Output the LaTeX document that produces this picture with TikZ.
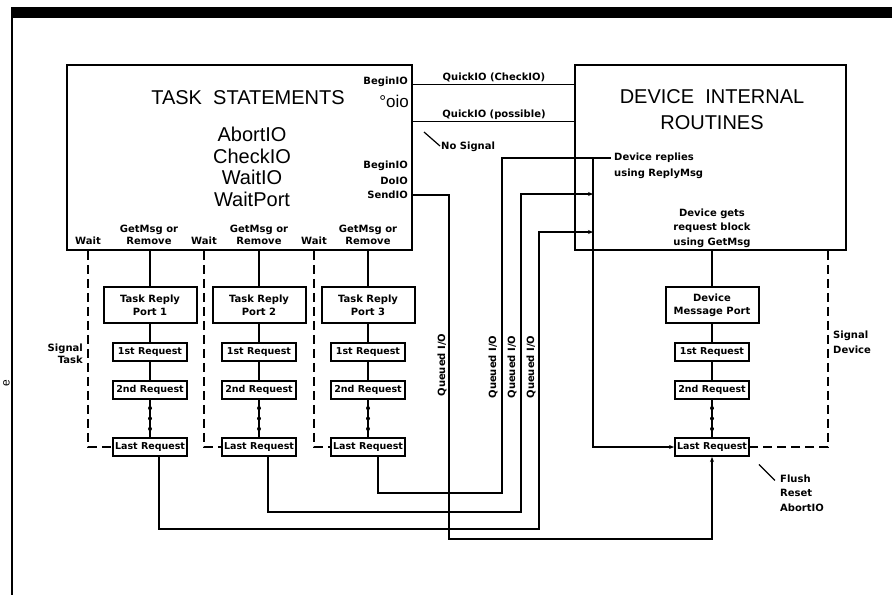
\documentclass[tikz,border=0pt]{standalone}
\usepackage{fontspec}
\setmainfont{Liberation Sans}
\newfontfamily\lblfont{DejaVu Sans}
\usepackage{tikz}
\usetikzlibrary{arrows.meta,positioning,calc}
\newcommand{\tinylbl}{\lblfont\bfseries\fontsize{10}{12}\selectfont}
\newcommand{\biglbl}{\fontsize{20}{21.5}\selectfont}
\tikzset{
  bigbox/.style={rectangle, draw, line width=1.6pt, inner sep=0pt},
  portbox/.style={rectangle, draw, line width=2pt, align=center,
                  font=\lblfont\bfseries\fontsize{10}{13}\selectfont,
                  minimum width=93pt, minimum height=36pt, inner sep=0pt},
  reqbox/.style={rectangle, draw, line width=2pt,
                 font=\lblfont\bfseries\fontsize{9.5}{12}\selectfont,
                 minimum width=74pt, minimum height=18pt, inner sep=0pt},
  lbl/.style={font=\tinylbl, inner sep=1pt},
  ttl/.style={font=\biglbl, align=center, inner sep=0pt},
  wire/.style={line width=1.2pt},
  ar/.style={wire, -{Stealth[length=5pt,width=4pt]}},
  sig/.style={line width=1.1pt, dash pattern=on 9pt off 5pt},
}

\begin{document}
\begin{tikzpicture}[x=1pt, y=-1pt, node distance=18pt]
\useasboundingbox (0,0) rectangle (892,595);

% page edge
\fill (11,7) rectangle (892,18);
\draw[line width=2pt] (12,18) -- (12,595);
\node[rotate=90, font=\fontsize{12}{12}\selectfont, inner sep=0pt] (edge) at (6.5,383) {e};

% main boxes
\node[bigbox, minimum width=345pt, minimum height=185pt] (task) at (239.5,157.5) {};
\node[bigbox, minimum width=271pt, minimum height=185pt] (dev) at (710.5,157.5) {};

\node[ttl] (tasktitle) at (248,98) {TASK\ \ STATEMENTS};
\node[ttl, font=\fontsize{17}{17}\selectfont, anchor=east] (oio) at (409,101) {°oio};
\node[ttl] (calls) at (252,167) {AbortIO\\CheckIO\\WaitIO\\WaitPort};
\node[ttl, font=\fontsize{20}{26}\selectfont] (devtitle) at (712,110) {DEVICE\ \ INTERNAL\\ROUTINES};

\node[lbl, anchor=east] (bio1) at (409,82) {BeginIO};
\node[lbl, anchor=east] (bio2) at (409,166) {BeginIO};
\node[lbl, anchor=east] (doio) at (409,181) {DoIO};
\node[lbl, anchor=east] (sendio) at (409,195) {SendIO};

\node[lbl] (wait1) at (88,241) {Wait};
\node[lbl] (wait2) at (204,241) {Wait};
\node[lbl] (wait3) at (314,241) {Wait};
\node[lbl, align=center] (get1) at (149,235) {GetMsg or\\Remove};
\node[lbl, align=center] (get2) at (259,235) {GetMsg or\\Remove};
\node[lbl, align=center] (get3) at (368,235) {GetMsg or\\Remove};

\node[lbl] (qlbl1) at (494,77) {QuickIO (CheckIO)};
\node[lbl] (qlbl2) at (494,115) {QuickIO (possible)};
\node[lbl, anchor=west] (nosig) at (440,147) {No Signal};

\node[lbl, anchor=west, align=left, font=\lblfont\bfseries\fontsize{10}{16}\selectfont] (replies) at (613,166) {Device replies\\using ReplyMsg};
\node[lbl, align=center, font=\lblfont\bfseries\fontsize{10}{14.5}\selectfont] (gets) at (712,228) {Device gets\\request block\\using GetMsg};

% reply port queues
\node[portbox] (trp1) at (150,305) {Task Reply\\Port 1};
\node[reqbox, below=of trp1] (rq1a) {1st Request};
\node[reqbox, below=of rq1a] (rq1b) {2nd Request};
\node[reqbox, below=37pt of rq1b] (lr1) {Last Request};

\node[portbox] (trp2) at (259,305) {Task Reply\\Port 2};
\node[reqbox, below=of trp2] (rq2a) {1st Request};
\node[reqbox, below=of rq2a] (rq2b) {2nd Request};
\node[reqbox, below=37pt of rq2b] (lr2) {Last Request};

\node[portbox] (trp3) at (368,305) {Task Reply\\Port 3};
\node[reqbox, below=of trp3] (rq3a) {1st Request};
\node[reqbox, below=of rq3a] (rq3b) {2nd Request};
\node[reqbox, below=37pt of rq3b] (lr3) {Last Request};

\node[portbox] (dmp) at (712,305) {Device\\Message Port};
\node[reqbox, below=of dmp] (rqda) {1st Request};
\node[reqbox, below=of rqda] (rqdb) {2nd Request};
\node[reqbox, below=37pt of rqdb] (lrd) {Last Request};

\node[lbl, anchor=east, align=right, font=\lblfont\bfseries\fontsize{10}{12}\selectfont] (sigtask) at (84,354) {Signal\\Task};
\node[lbl, anchor=west, align=left, font=\lblfont\bfseries\fontsize{10}{15}\selectfont] (sigdev) at (832,342) {Signal\\Device};
\node[lbl, anchor=west, align=left, font=\lblfont\bfseries\fontsize{10}{14.5}\selectfont] (flush) at (779,493) {Flush\\Reset\\AbortIO};

\node[lbl, rotate=90] (qio0) at (442,365) {Queued I/O};
\node[lbl, rotate=90] (qio1) at (493,367) {Queued I/O};
\node[lbl, rotate=90] (qio2) at (512,367) {Queued I/O};
\node[lbl, rotate=90] (qio3) at (531,367) {Queued I/O};

% lanes and junctions
\coordinate (lane0) at (449,0);
\coordinate (lane1) at (502,0);
\coordinate (lane2) at (521,0);
\coordinate (lane3) at (539,0);
\coordinate (hub) at (593,158);
\coordinate (reply) at (611,158);
\coordinate (in2) at (593,194);
\coordinate (in3) at (593,232);
\coordinate (sigd) at (828,0);
\coordinate (busy) at (0,539);
\coordinate (lr1out) at ($(lr1.south)+(9,0)$);
\coordinate (lr2out) at ($(lr2.south)+(9,0)$);
\coordinate (lr3out) at ($(lr3.south)+(10,0)$);

% quick io
\path (task.north east) ++(0,20) coordinate (qa);
\path (task.north east) ++(0,57) coordinate (qb);
\draw[wire] (qa) -- (qa -| dev.west);
\draw[wire] (qb) -- (qb -| dev.west);
\draw[wire] ($(nosig.west)+(0,-1)$) -- ++(-16,-14);
\draw[wire] ($(flush.north west)+(-4,7)$) -- ++(-16,-16);

% ports
\foreach \p in {trp1,trp2,trp3} \draw[wire] (task.south -| \p.north) -- (\p.north);
\draw[wire] (dev.south -| dmp.north) -- (dmp.north);
\foreach \a/\b in {trp1/rq1a,rq1a/rq1b,trp2/rq2a,rq2a/rq2b,trp3/rq3a,rq3a/rq3b,dmp/rqda,rqda/rqdb}
  \draw[wire] (\a) -- (\b);
\foreach \a/\b in {rq1b/lr1,rq2b/lr2,rq3b/lr3,rqdb/lrd} {
  \draw[wire] (\a) -- (\b);
  \foreach \f in {0.22,0.5,0.78} \fill ($(\a.south)!\f!(\b.north)$) circle (2pt);
}

% signals
\draw[sig] (task.south -| wait1) |- (lr1.west);
\draw[sig] (task.south -| wait2) |- (lr2.west);
\draw[sig] (task.south -| wait3) |- (lr3.west);
\draw[sig] (dev.south -| sigd) |- (lrd.east);

% queued i/o
\draw[wire] (lr3out) -- ++(0,36) -| (lane1 |- hub) -- (reply);
\draw[ar] (lr2out) -- ++(0,55) -| (lane2 |- in2) -- (in2);
\draw[ar] (lr1out) -- ++(0,72) -| (lane3 |- in3) -- (in3);
\draw[ar] (hub) |- (lrd.west);
\draw[ar] (task.east |- sendio) -| (lane0 |- busy) -| (lrd.south);
\end{tikzpicture}
\end{document}
